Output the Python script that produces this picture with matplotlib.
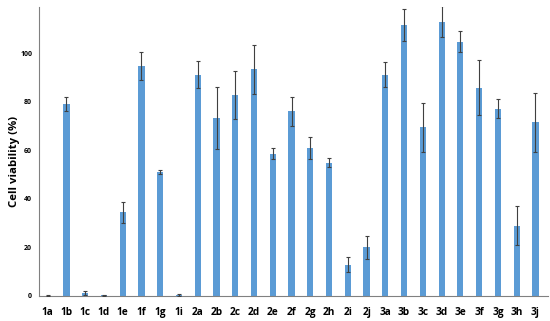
import matplotlib
matplotlib.use("Agg")
import matplotlib.pyplot as plt
import numpy as np

categories = ["1a","1b","1c","1d","1e","1f","1g","1i",
              "2a","2b","2c","2d","2e","2f","2g","2h","2i","2j",
              "3a","3b","3c","3d","3e","3f","3g","3h","3j"]
viability = [0.1, 79.0, 1.2, 0.2, 34.4, 94.7, 51.0, 0.4,
             91.1, 73.3, 82.8, 93.3, 58.6, 76.0, 60.9, 54.9, 12.8, 20.0,
             91.2, 111.5, 69.4, 113.0, 104.8, 85.7, 77.2, 28.9, 71.6]
errors = [0.1, 2.8, 0.7, 0.1, 4.3, 5.6, 0.8, 0.3,
          5.5, 12.6, 10.0, 10.0, 2.2, 5.9, 4.4, 1.8, 3.1, 4.7,
          5.0, 6.5, 10.0, 6.5, 4.5, 11.3, 4.0, 8.1, 12.2]
yticks = [0, 20, 40, 60, 80, 100]

plt.rcParams['font.family'] = ['Open Sans', 'DejaVu Sans']
fig = plt.figure(figsize=(5.5, 3.21), dpi=100)
ax = fig.add_axes([0.071, 0.078, 0.925, 0.9])

x = np.arange(len(categories))
ax.bar(x, viability, width=0.33, color="#5B9BD5", zorder=2)
ax.errorbar(x, viability, yerr=errors, fmt="none", ecolor="#404040",
            elinewidth=0.8, capsize=1.5, capthick=0.8, zorder=3)

ax.set_xlim(-0.46, 26.66)
ax.set_ylim(0, 119)
ax.set_xticks(x)
ax.set_xticklabels(categories, fontsize=7.3, fontweight="bold")
ax.set_yticks(yticks)
ax.set_yticklabels([str(t) for t in yticks], fontsize=5, fontweight="bold")
ax.tick_params(axis="both", length=0)
ax.tick_params(axis="x", pad=8)
ax.tick_params(axis="y", pad=5)
ax.set_ylabel("Cell viability (%)", fontsize=8.2, fontweight="bold")
ax.yaxis.set_label_coords(-0.038, 0.467)

for s in ["top", "right"]:
    ax.spines[s].set_visible(False)
for s in ["left", "bottom"]:
    ax.spines[s].set_color("#808080")
    ax.spines[s].set_linewidth(0.8)

fig.savefig("out.png", dpi=100)
